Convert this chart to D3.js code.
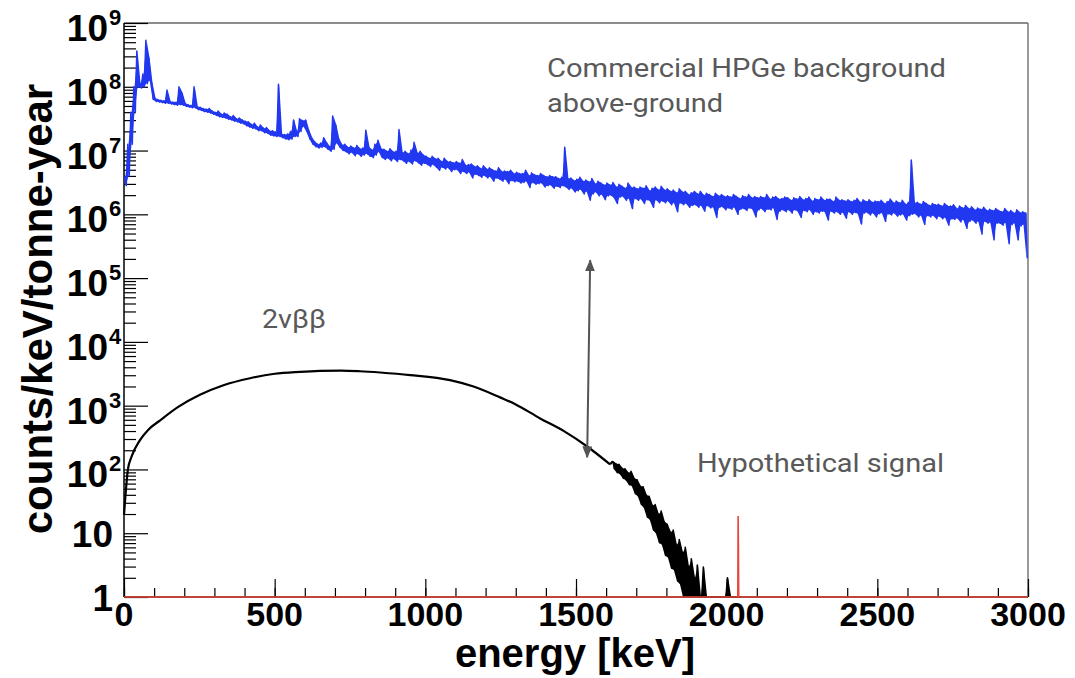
<!DOCTYPE html>
<html>
<head>
<meta charset="utf-8">
<script src="https://cdn.jsdelivr.net/npm/d3@7"></script>
<style>
  body { margin: 0; background: #fff; }
</style>
</head>
<body>
<svg id="chart" width="1075" height="678"></svg>
<script>
// Background spectrum: log10(counts) per 10 keV bin, upper and lower edge of the trace
const blueHiLog = [
  6.60, 7.10, 7.60, 8.00, 8.56, 8.05, 8.20, 8.73, 8.45, 8.05,
  7.82, 7.80, 7.79, 7.78, 7.95, 7.77, 7.76, 7.76, 8.00, 7.90,
  7.74, 7.72, 7.71, 8.00, 7.69, 7.68, 7.66, 7.65, 7.66, 7.62,
  7.60, 7.62, 7.57, 7.59, 7.57, 7.53, 7.55, 7.50, 7.51, 7.48,
  7.46, 7.45, 7.41, 7.43, 7.37, 7.40, 7.35, 7.36, 7.31, 7.31,
  7.29, 8.04, 7.26, 7.25, 7.26, 7.30, 7.48, 7.30, 7.50, 7.47,
  7.48, 7.32, 7.20, 7.14, 7.10, 7.12, 7.20, 7.12, 7.06, 7.54,
  7.40, 7.18, 7.09, 7.10, 7.05, 7.07, 7.04, 7.08, 7.03, 7.04,
  7.32, 7.05, 7.01, 7.10, 7.16, 7.03, 7.02, 6.99, 7.03, 6.98,
  6.99, 7.33, 6.97, 6.99, 6.95, 7.01, 7.13, 6.96, 6.99, 6.93,
  6.91, 6.88, 6.91, 6.87, 6.88, 6.83, 6.88, 6.83, 6.83, 6.81,
  6.83, 6.80, 6.86, 6.77, 6.78, 6.79, 6.75, 6.76, 6.72, 6.76,
  6.71, 6.73, 6.70, 6.68, 6.73, 6.67, 6.68, 6.67, 6.69, 6.64,
  6.66, 6.64, 6.64, 6.69, 6.61, 6.65, 6.62, 6.61, 6.64, 6.61,
  6.59, 6.61, 6.59, 6.59, 6.56, 6.58, 7.05, 6.56, 6.57, 6.53,
  6.55, 6.58, 6.52, 6.54, 6.51, 6.56, 6.48, 6.52, 6.49, 6.46,
  6.49, 6.46, 6.50, 6.43, 6.47, 6.44, 6.41, 6.49, 6.42, 6.43,
  6.40, 6.43, 6.41, 6.45, 6.37, 6.41, 6.43, 6.38, 6.44, 6.38,
  6.40, 6.36, 6.38, 6.34, 6.40, 6.35, 6.36, 6.31, 6.34, 6.36,
  6.32, 6.36, 6.30, 6.33, 6.31, 6.28, 6.33, 6.29, 6.31, 6.28,
  6.29, 6.27, 6.31, 6.28, 6.25, 6.29, 6.27, 6.31, 6.26, 6.28,
  6.26, 6.28, 6.26, 6.31, 6.24, 6.27, 6.28, 6.24, 6.25, 6.27,
  6.26, 6.22, 6.26, 6.24, 6.28, 6.23, 6.25, 6.27, 6.21, 6.25,
  6.23, 6.27, 6.22, 6.24, 6.24, 6.20, 6.27, 6.22, 6.23, 6.21,
  6.23, 6.20, 6.22, 6.25, 6.19, 6.23, 6.20, 6.23, 6.19, 6.21,
  6.20, 6.22, 6.17, 6.20, 6.24, 6.18, 6.21, 6.18, 6.22, 6.16,
  6.19, 6.85, 6.18, 6.19, 6.16, 6.20, 6.17, 6.14, 6.17, 6.15,
  6.16, 6.13, 6.17, 6.13, 6.13, 6.15, 6.09, 6.13, 6.10, 6.14,
  6.09, 6.12, 6.07, 6.10, 6.08, 6.11, 6.06, 6.08, 6.06, 6.09,
  6.06, 6.04, 6.09, 6.04, 6.06, 6.02, 6.07, 6.03, 6.04, 6.02
];
const blueLoLog = [
  6.45, 6.60, 7.10, 7.60, 8.00, 7.98, 8.00, 8.05, 8.10, 7.80,
  7.77, 7.76, 7.75, 7.74, 7.74, 7.73, 7.72, 7.71, 7.72, 7.71,
  7.69, 7.68, 7.67, 7.67, 7.64, 7.63, 7.61, 7.60, 7.59, 7.57,
  7.55, 7.53, 7.52, 7.51, 7.49, 7.48, 7.46, 7.45, 7.43, 7.42,
  7.39, 7.37, 7.35, 7.34, 7.31, 7.31, 7.28, 7.27, 7.24, 7.23,
  7.22, 7.22, 7.20, 7.18, 7.17, 7.18, 7.22, 7.22, 7.30, 7.38,
  7.30, 7.18, 7.10, 7.06, 7.04, 7.05, 7.06, 7.02, 6.99, 7.02,
  7.12, 7.05, 7.00, 6.98, 6.95, 6.97, 6.92, 6.95, 6.91, 6.93,
  6.95, 6.91, 6.89, 6.93, 6.98, 6.89, 6.86, 6.88, 6.84, 6.87,
  6.83, 6.86, 6.84, 6.80, 6.83, 6.79, 6.84, 6.81, 6.77, 6.80,
  6.78, 6.75, 6.78, 6.74, 6.69, 6.74, 6.71, 6.73, 6.67, 6.70,
  6.70, 6.64, 6.67, 6.64, 6.66, 6.57, 6.63, 6.61, 6.58, 6.61,
  6.57, 6.59, 6.52, 6.57, 6.55, 6.52, 6.55, 6.48, 6.53, 6.51,
  6.52, 6.49, 6.50, 6.52, 6.42, 6.50, 6.47, 6.48, 6.49, 6.43,
  6.45, 6.46, 6.41, 6.44, 6.42, 6.45, 6.43, 6.39, 6.41, 6.35,
  6.37, 6.39, 6.32, 6.36, 6.22, 6.32, 6.35, 6.29, 6.31, 6.23,
  6.29, 6.30, 6.26, 6.17, 6.27, 6.28, 6.22, 6.25, 6.09, 6.25,
  6.22, 6.24, 6.17, 6.23, 6.21, 6.11, 6.23, 6.18, 6.21, 6.18,
  6.21, 6.15, 6.18, 6.04, 6.18, 6.15, 6.17, 6.11, 6.14, 6.15,
  6.11, 6.14, 6.05, 6.14, 6.10, 6.11, 5.95, 6.11, 6.12, 6.07,
  6.10, 6.08, 6.11, 6.00, 6.08, 6.09, 6.06, 6.10, 6.08, 5.96,
  6.07, 6.09, 6.04, 6.08, 6.07, 6.10, 5.92, 6.05, 6.07, 6.04,
  6.07, 6.02, 6.07, 6.05, 5.95, 6.06, 6.04, 6.07, 6.00, 6.04,
  6.02, 6.05, 6.04, 5.91, 6.05, 6.02, 6.04, 6.00, 6.03, 5.94,
  6.04, 6.00, 6.03, 6.01, 5.85, 6.02, 6.03, 5.99, 6.02, 5.96,
  6.01, 6.02, 5.89, 6.01, 5.99, 6.02, 5.97, 5.99, 6.00, 5.91,
  5.98, 6.00, 6.01, 5.96, 5.98, 5.84, 5.98, 5.96, 5.98, 5.93,
  5.97, 5.93, 5.95, 5.83, 5.93, 5.92, 5.94, 5.88, 5.92, 5.78,
  5.89, 5.91, 5.86, 5.89, 5.69, 5.89, 5.86, 5.87, 5.60, 5.86,
  5.86, 5.83, 5.87, 5.54, 5.84, 5.86, 5.60, 5.82, 5.84, 5.31
];

// 2vbb spectrum, smooth part: energy [keV] and log10(counts)
const bbEnergy = [0, 5, 13, 25, 53, 80, 120, 180, 252, 330, 418, 500, 584, 650,
  720, 783, 850, 950, 1082, 1160, 1248, 1300, 1381, 1460, 1537, 1613];
const bbLog = [1.29, 1.60, 2.00, 2.20, 2.46, 2.62, 2.77, 2.98, 3.17, 3.32, 3.43, 3.50, 3.53, 3.545,
  3.55, 3.54, 3.52, 3.48, 3.40, 3.30, 3.13, 3.02, 2.80, 2.60, 2.36, 2.08];

// 2vbb tail, 10 keV bins from 1620 keV (0 = empty bin)
const bbTailStart = 1620;
const bbTailHiLog = [2.13, 2.09, 2.08, 2.02, 2.01, 1.95, 1.97, 1.86, 1.84, 1.74,
  1.73, 1.60, 1.58, 1.44, 1.45, 1.30, 1.35, 1.18, 1.14, 1.02,
  1.05, 0.82, 0.90, 0.70, 0.78, 0.48, 0.60, 0.30, 0.50, 0.00,
  0.47, 0.00, 0.00, 0.00, 0.00, 0.00, 0.00, 0.00, 0.30, 0.00,
  0.00, 0.00, 0.00];
const bbTailLoLog = [2.01, 1.95, 1.93, 1.86, 1.83, 1.76, 1.74, 1.62, 1.58, 1.45,
  1.40, 1.25, 1.21, 1.05, 1.00, 0.85, 0.82, 0.65, 0.62, 0.45,
  0.42, 0.25, 0.20, 0.00, 0.00, 0.00, 0.00, 0.00, 0.00, 0.00,
  0.00, 0.00, 0.00, 0.00, 0.00, 0.00, 0.00, 0.00, 0.00, 0.00,
  0.00, 0.00, 0.00];

// Hypothetical signal at Q = 2039 keV
const signalEnergy = [0, 2037, 2038, 2039, 2040, 3000];
const signalCounts = [1, 1, 18.6, 6, 1, 1];

// Axis ticks
const decades = d3.range(0, 10);
const xMajor = d3.range(0, 3001, 500);
const xMinor = d3.range(0, 3001, 100);

// Arrow annotation (energy, counts)
const arrowFrom = [1547, 1.9e5];
const arrowTo = [1537, 155];

const binWidth = 10;
const svg = d3.select('#chart');
const frame = { left: 124, right: 1028, top: 23, bottom: 597 };

const x = d3.scaleLinear().domain([0, 3000]).range([frame.left, frame.right]);
const y = d3.scaleLog().domain([1, 1e9]).range([frame.bottom, frame.top]).clamp(true);

const line = d3.line().x(d => x(d[0])).y(d => y(d[1]));
const band = d3.area().x(d => x(d[0])).y0(d => y(d[2])).y1(d => y(d[1]));

// each bin drawn as its upper then lower edge, like a dense histogram
function zigzag(start, hi, lo) {
    const pts = [];
    hi.forEach((h, i) => {
        const e = start + i * binWidth;
        pts.push([e + 2.5, Math.pow(10, h)]);
        pts.push([e + 7.5, Math.pow(10, lo[i])]);
    });
    return pts;
}
function bins(start, hi, lo) {
    return hi.map((h, i) => [start + i * binWidth + 5, Math.pow(10, h), Math.pow(10, lo[i])]);
}

function drawSpectrum(start, hi, lo, color, width) {
    svg.append('path')
        .attr('d', band(bins(start, hi, lo)))
        .attr('fill', color)
        .attr('stroke', 'none');
    svg.append('path')
        .attr('d', line(zigzag(start, hi, lo)))
        .attr('fill', 'none')
        .attr('stroke', color)
        .attr('stroke-width', width)
        .attr('stroke-linejoin', 'round');
}

// Frame (top and right)
svg.append('line').attr('x1', frame.left).attr('x2', frame.right).attr('y1', frame.top).attr('y2', frame.top)
    .attr('stroke', '#666').attr('stroke-width', 1.5);
svg.append('line').attr('x1', frame.right).attr('x2', frame.right).attr('y1', frame.top).attr('y2', frame.bottom)
    .attr('stroke', '#777').attr('stroke-width', 1.5);

// Y ticks (inside)
const yMinor = [];
decades.slice(0, -1).forEach(k => { for (let m = 2; m <= 9; m++) yMinor.push(m * Math.pow(10, k)); });
const yMajor = decades.map(k => Math.pow(10, k));

svg.append('g').attr('transform', `translate(${frame.left},0)`)
    .call(d3.axisRight(y).tickValues(yMajor).tickSize(24).tickFormat(''))
    .call(g => g.select('.domain').remove());
svg.append('g').attr('transform', `translate(${frame.left},0)`)
    .call(d3.axisRight(y).tickValues(yMinor).tickSize(12).tickFormat(''))
    .call(g => g.select('.domain').remove());

// X ticks (inside)
svg.append('g').attr('transform', `translate(0,${frame.bottom})`)
    .call(d3.axisTop(x).tickValues(xMajor).tickSize(18).tickFormat(''))
    .call(g => g.select('.domain').remove());
svg.append('g').attr('transform', `translate(0,${frame.bottom})`)
    .call(d3.axisTop(x).tickValues(xMinor).tickSize(9).tickFormat(''))
    .call(g => g.select('.domain').remove());
svg.selectAll('.tick line').attr('stroke', '#000').attr('stroke-width', 1.2);

// Left and bottom axis lines
svg.append('line').attr('x1', frame.left).attr('x2', frame.left).attr('y1', frame.top).attr('y2', frame.bottom)
    .attr('stroke', '#000').attr('stroke-width', 1.5);
svg.append('line').attr('x1', frame.left).attr('x2', frame.right).attr('y1', frame.bottom).attr('y2', frame.bottom)
    .attr('stroke', '#000').attr('stroke-width', 1.5);

// Background spectrum
drawSpectrum(0, blueHiLog, blueLoLog, '#2238f0', 1.5);

// 2vbb spectrum
svg.append('path')
    .attr('d', d3.line().x(d => x(d[0])).y(d => y(d[1])).curve(d3.curveMonotoneX)(
        bbEnergy.map((e, i) => [e, Math.pow(10, bbLog[i])])))
    .attr('fill', 'none')
    .attr('stroke', '#000')
    .attr('stroke-width', 2.2);
svg.append('path')
    .attr('d', line([[bbEnergy[bbEnergy.length - 1], Math.pow(10, bbLog[bbLog.length - 1])],
        [bbTailStart + 2.5, Math.pow(10, bbTailHiLog[0])]]))
    .attr('fill', 'none')
    .attr('stroke', '#000')
    .attr('stroke-width', 2.2);
drawSpectrum(bbTailStart, bbTailHiLog, bbTailLoLog, '#000', 1.5);

// Signal
svg.append('path')
    .attr('d', line(signalEnergy.map((e, i) => [e, signalCounts[i]])))
    .attr('fill', 'none')
    .attr('stroke', '#e8473b')
    .attr('stroke-width', 1.6);

// Y tick labels
const labelFont = '"Liberation Sans", Arial, Helvetica, sans-serif';
const yLabels = svg.append('g')
    .attr('font-family', labelFont)
    .attr('font-weight', 'bold')
    .attr('fill', '#000');
decades.forEach(k => {
    const ty = y(Math.pow(10, k));
    if (k >= 2) {
        yLabels.append('text').attr('x', 108).attr('y', ty + 18)
            .attr('text-anchor', 'end').attr('font-size', 37).text('10');
        yLabels.append('text').attr('x', 109).attr('y', ty + 2)
            .attr('font-size', 22).text(k);
    } else {
        yLabels.append('text').attr('x', 113).attr('y', ty + 14)
            .attr('text-anchor', 'end').attr('font-size', 37).text(k === 1 ? '10' : '1');
    }
});

// X tick labels
svg.append('g')
    .attr('font-family', labelFont)
    .attr('font-weight', 'bold')
    .attr('font-size', 34)
    .selectAll('text')
    .data(xMajor)
    .join('text')
    .attr('x', d => x(d))
    .attr('y', 626)
    .attr('text-anchor', 'middle')
    .text(d => d);

// Axis titles
svg.append('text')
    .attr('x', 575).attr('y', 667)
    .attr('text-anchor', 'middle')
    .attr('font-family', labelFont).attr('font-weight', 'bold').attr('font-size', 40)
    .text('energy [keV]');
svg.append('text')
    .attr('transform', 'translate(52,309) rotate(-90)')
    .attr('text-anchor', 'middle')
    .attr('font-family', labelFont).attr('font-weight', 'bold').attr('font-size', 42)
    .text('counts/keV/tonne-year');

// Annotations
const notes = [
    { text: 'Commercial HPGe background', x: 547, y: 77, w: 399 },
    { text: 'above-ground', x: 547, y: 112, w: 176 },
    { text: '2vββ', x: 262, y: 328, w: 64 },
    { text: 'Hypothetical signal', x: 697, y: 472, w: 247 }
];
svg.append('g')
    .attr('font-family', 'Roboto, "Noto Sans", sans-serif')
    .attr('font-size', 26)
    .attr('fill', '#595959')
    .selectAll('text')
    .data(notes)
    .join('text')
    .attr('x', d => d.x)
    .attr('y', d => d.y)
    .attr('textLength', d => d.w)
    .attr('lengthAdjust', 'spacingAndGlyphs')
    .text(d => d.text);

// Double-headed arrow
svg.append('defs').append('marker')
    .attr('id', 'head')
    .attr('viewBox', '0 0 12 10')
    .attr('refX', 11).attr('refY', 5)
    .attr('markerWidth', 12).attr('markerHeight', 10)
    .attr('markerUnits', 'userSpaceOnUse')
    .attr('orient', 'auto-start-reverse')
    .append('path')
    .attr('d', 'M0,0 L12,5 L0,10 Z')
    .attr('fill', '#555');
svg.append('line')
    .attr('x1', x(arrowFrom[0])).attr('y1', y(arrowFrom[1]))
    .attr('x2', x(arrowTo[0])).attr('y2', y(arrowTo[1]))
    .attr('stroke', '#555')
    .attr('stroke-width', 2)
    .attr('marker-start', 'url(#head)')
    .attr('marker-end', 'url(#head)');
</script>
</body>
</html>
